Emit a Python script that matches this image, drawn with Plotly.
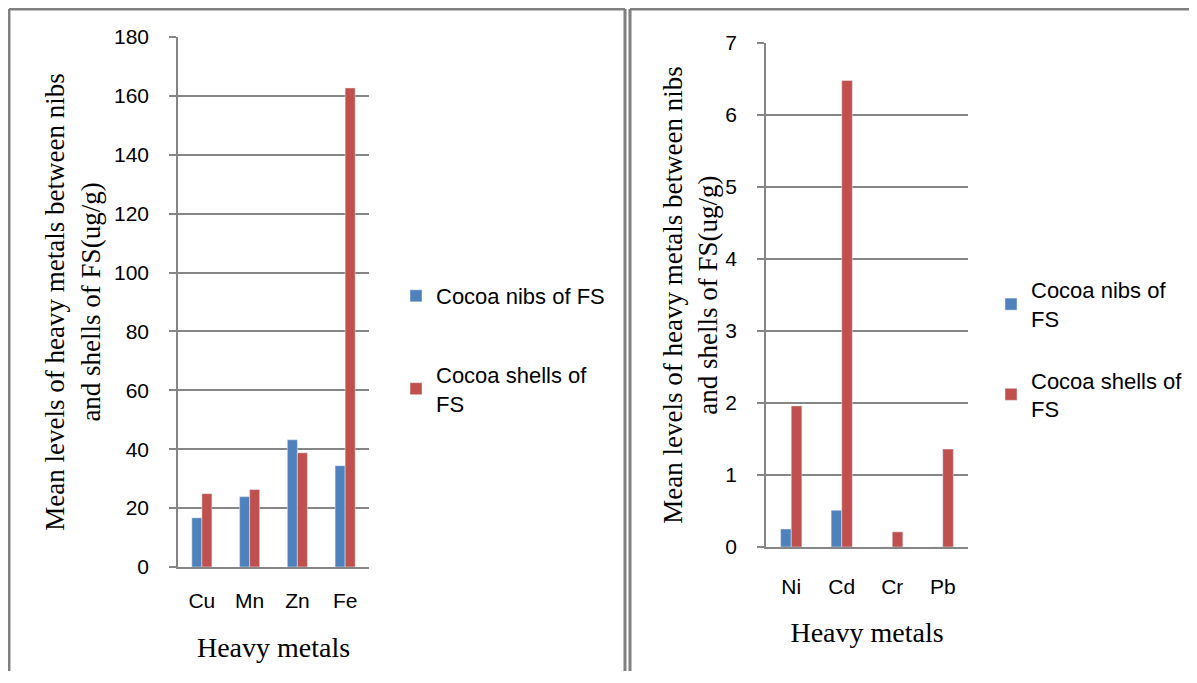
import plotly.graph_objects as go

left_metals = ["Cu", "Mn", "Zn", "Fe"]
left_nibs = [16.7, 23.9, 43.2, 34.4]
left_shells = [24.9, 26.3, 38.8, 162.7]

right_metals = ["Ni", "Cd", "Cr", "Pb"]
right_nibs = [0.25, 0.51, 0.0, 0.0]
right_shells = [1.96, 6.48, 0.21, 1.36]

series_names = ["Cocoa nibs of FS", "Cocoa shells of<br>FS"]
series_names_right = ["Cocoa nibs of<br>FS", "Cocoa shells of<br>FS"]
y_title = "Mean levels of heavy metals between nibs<br>and shells of FS(ug/g)"
x_title = "Heavy metals"

BLUE = "#4F81BD"
RED = "#C0504D"
GRID = "#868686"
BORDER = "#808080"
OFF = 8  # default page body margin
W, H = 1197 - 2 * OFF, 683 - 2 * OFF - 4

def px(x):
    return (x - OFF) / W

def py(y):
    return 1 - (y - OFF) / H

fig = go.Figure()
fig.add_trace(go.Bar(x=left_metals, y=left_nibs, name=series_names[0], marker_color=BLUE,
                     xaxis="x", yaxis="y", legend="legend", legendgroup="a"))
fig.add_trace(go.Bar(x=left_metals, y=left_shells, name=series_names[1], marker_color=RED,
                     xaxis="x", yaxis="y", legend="legend", legendgroup="b"))
fig.add_trace(go.Bar(x=right_metals, y=right_nibs, name=series_names_right[0], marker_color=BLUE,
                     xaxis="x2", yaxis="y2", legend="legend2", legendgroup="c"))
fig.add_trace(go.Bar(x=right_metals, y=right_shells, name=series_names_right[1], marker_color=RED,
                     xaxis="x2", yaxis="y2", legend="legend2", legendgroup="d"))

tick_font = dict(family="Liberation Sans", size=21, color="#000000")
title_font = dict(family="Liberation Serif", size=28, color="#000000")
ytitle_font = dict(family="Liberation Serif", size=27, color="#000000")
leg_font = dict(family="Liberation Sans", size=22, color="#000000")

common_y = dict(showgrid=True, gridcolor=GRID, gridwidth=1.5, showline=True, linecolor=GRID,
                linewidth=1.5, ticks="outside", ticklen=7, tickcolor=GRID, tickwidth=1.5,
                tickfont=tick_font, zeroline=False, ticklabelstandoff=16, automargin=False)
common_x = dict(showline=True, linecolor=GRID, linewidth=1.5, ticks="", tickfont=tick_font,
                showgrid=False, automargin=False)

def vline(x, y0, y1):
    return dict(type="line", xref="paper", yref="paper", x0=px(x), x1=px(x), y0=y0, y1=py(y1),
                line=dict(color=BORDER, width=3))

def hline(x0, x1, y):
    return dict(type="line", xref="paper", yref="paper", x0=px(x0), x1=x1, y0=py(y), y1=py(y),
                line=dict(color=BORDER, width=3))

fig.update_layout(
    width=W, height=H,
    margin=dict(l=0, r=0, t=0, b=0, pad=0, autoexpand=False),
    paper_bgcolor="white", plot_bgcolor="white",
    barmode="group",
    bargap=0.58,
    showlegend=True,
    xaxis=dict(domain=[px(178), px(369)], anchor="y", ticklabelstandoff=14,
               title=dict(text=x_title, font=title_font, standoff=26), **common_x),
    yaxis=dict(domain=[py(567), py(37)], anchor="x", range=[0, 180], dtick=20,
               title=dict(text=y_title, font=ytitle_font, standoff=6), **common_y),
    xaxis2=dict(domain=[px(766), px(968)], anchor="y2", ticklabelstandoff=20,
                title=dict(text=x_title, font=title_font, standoff=25), **common_x),
    yaxis2=dict(domain=[py(547), py(43)], anchor="x2", range=[0, 7], dtick=1,
                title=dict(text=y_title, font=ytitle_font, standoff=0), **common_y),
    legend=dict(x=px(396), y=py(275), xanchor="left", yanchor="top", font=leg_font,
                itemwidth=30, tracegroupgap=47, traceorder="grouped", bgcolor="rgba(0,0,0,0)"),
    legend2=dict(x=px(991), y=py(269), xanchor="left", yanchor="top", font=leg_font,
                 itemwidth=30, tracegroupgap=30, traceorder="grouped", bgcolor="rgba(0,0,0,0)"),
    shapes=[
        vline(9, 0, 9), vline(625, 0, 9), hline(9, px(625), 9),
        vline(630, 0, 9), hline(630, 1, 9),
    ],
)

fig.write_html("out.html")
